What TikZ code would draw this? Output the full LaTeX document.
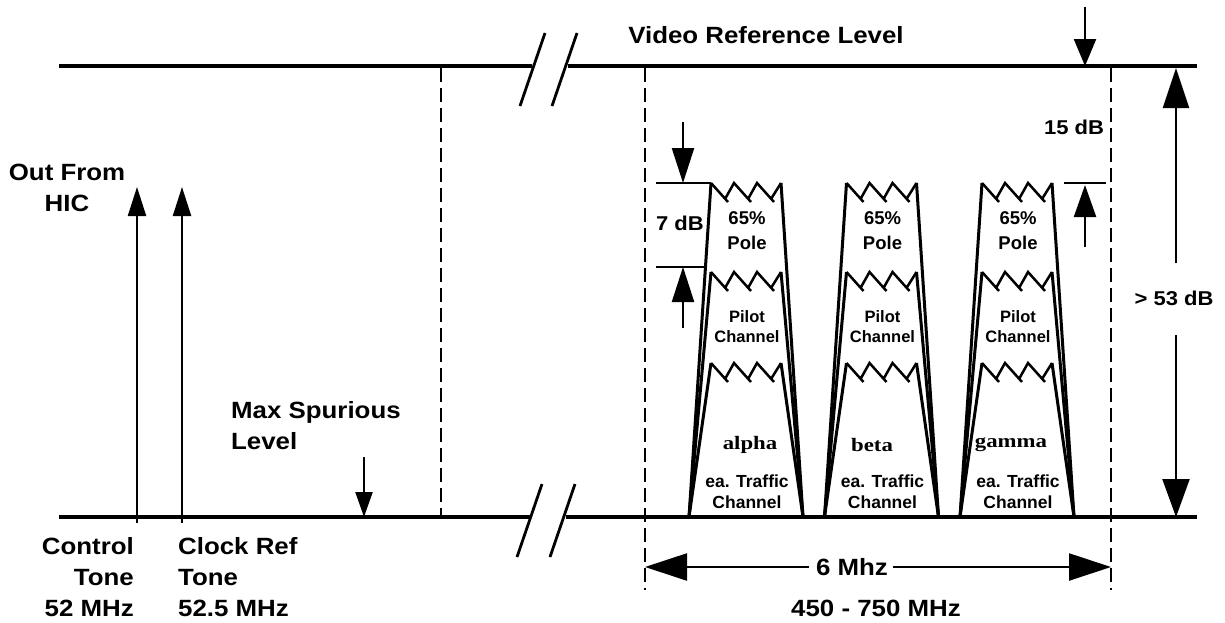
\documentclass[tikz,border=0pt]{standalone}
\usepackage{fontspec}
\newfontfamily\lblfont[FakeStretch=1.1]{Liberation Sans}
\newfontfamily\chfont{Liberation Sans}
\newfontfamily\grkfont[FakeStretch=1.2]{Liberation Serif}
\usetikzlibrary{arrows.meta}
\tikzset{
	reflevel/.style={line width=3.5pt},
	brk/.style={line width=2.8pt},
	dashline/.style={line width=2.5pt, dash pattern=on 14pt off 6pt},
	band/.style={line width=3pt},
	zig/.style={line width=2.5pt},
	dimtick/.style={line width=2.5pt},
	dimarrow/.style 2 args={line width=2.3pt, -{Triangle[length=#1pt, width=#2pt]}},
	lbl/.style={font=\lblfont\bfseries\fontsize{23.5}{31}\selectfont, inner sep=0pt},
	dblbl/.style={font=\lblfont\bfseries\fontsize{20}{24}\selectfont, inner sep=0pt},
	polelbl/.style={font=\chfont\bfseries\fontsize{18.5}{25}\selectfont, inner sep=0pt, align=center},
	pilotlbl/.style={font=\chfont\bfseries\fontsize{16.5}{20}\selectfont, inner sep=0pt, align=center},
	trafficlbl/.style={font=\chfont\bfseries\fontsize{17.5}{21}\selectfont, inner sep=0pt, align=center},
	grklbl/.style={font=\grkfont\bfseries\fontsize{19}{23}\selectfont, inner sep=0pt},
}

\begin{document}
\begin{tikzpicture}[x=1pt, y=-1pt]
	\useasboundingbox (0, 0) rectangle (1225, 622);
	% Paths, nodes and wires:
	\draw[reflevel] (59, 66) -- (532, 66) (568, 66) -- (1197, 66);
	\draw[reflevel] (59, 517) -- (530, 517) (566, 517) -- (1197, 517);
	\draw[brk] (520, 106) -- (545, 33) (552, 106) -- (577, 33);
	\draw[brk] (517, 557) -- (542, 484) (550, 557) -- (575, 484);
	\draw[dashline] (441, 68) -- (441, 517);
	\draw[dashline] (645, 68) -- (645, 590);
	\draw[dashline] (1111, 68) -- (1111, 590);
	\coordinate (ctlFoot) at (137, 523);
	\coordinate (ctlTop) at (137, 187);
	\coordinate (clkFoot) at (182, 523);
	\coordinate (clkTop) at (182, 187);
	\coordinate (spurTail) at (364, 457);
	\coordinate (spurTip) at (364, 517);
	\draw[dimarrow={29}{18}] (ctlFoot) -- (ctlTop);
	\draw[dimarrow={29}{18}] (clkFoot) -- (clkTop);
	\draw[dimarrow={25}{17}] (spurTail) -- (spurTip);
	\node[lbl, align=center] (hic) at (67, 188){Out From\\HIC};
	\node[lbl, align=left, anchor=west] (spur) at (231, 426){Max Spurious\\Level};
	\node[lbl, align=right, anchor=east] (ctl) at (134, 577){Control\\Tone\\52 MHz};
	\node[lbl, align=left, anchor=west] (clk) at (178, 577){Clock Ref\\Tone\\52.5 MHz};
	\node[lbl] (vidref) at (766, 35){Video Reference Level};
	\foreach \cx/\nm in {746/a, 881.5/b, 1017/c} {
		\foreach \ty in {183, 272, 363} {
			\draw[band] (\cx-57, 517) -- (\cx-35, \ty) (\cx+35, \ty) -- (\cx+57, 517);
			\draw[zig] (\cx-35, \ty) -- (\cx-18, \ty+19) (\cx-21, \ty+16) -- (\cx-12, \ty) -- (\cx+5, \ty+19) (\cx+2, \ty+16) -- (\cx+11, \ty) -- (\cx+28, \ty+19) (\cx+25, \ty+16) -- (\cx+35, \ty);
		}
		\node[polelbl] (pole\nm) at (\cx+1, 231){65\%\\Pole};
		\node[pilotlbl] (pilot\nm) at (\cx+1, 327){Pilot\\Channel};
		\node[trafficlbl] (traffic\nm) at (\cx+1, 492){ea. Traffic\\Channel};
	}
	\node[grklbl] (alpha) at (750, 445){alpha};
	\node[grklbl] (beta) at (872, 445){beta};
	\node[grklbl] (gamma) at (1011, 445){gamma};
	% dB markers
	\coordinate (sevenTail) at (683, 122);
	\coordinate (sevenTop) at (683, 183);
	\coordinate (sevenRise) at (683, 328);
	\coordinate (sevenLow) at (683, 267);
	\draw[dimtick] (656, 183) -- (711, 183);
	\draw[dimtick] (656, 267) -- (706, 267);
	\draw[dimarrow={35}{22}] (sevenTail) -- (sevenTop);
	\draw[dimarrow={35}{22}] (sevenRise) -- (sevenLow);
	\node[dblbl] (db7) at (680, 223){7 dB};
	\coordinate (vidTail) at (1085, 7);
	\coordinate (vidTip) at (1085, 66);
	\coordinate (fifRise) at (1085, 247);
	\coordinate (fifTop) at (1085, 185);
	\draw[dimtick] (1064, 183) -- (1106, 183);
	\draw[dimarrow={27}{22}] (vidTail) -- (vidTip);
	\draw[dimarrow={32}{22}] (fifRise) -- (fifTop);
	\node[dblbl] (db15) at (1074, 127){15 dB};
	\coordinate (spanUp) at (1176, 263);
	\coordinate (spanTop) at (1176, 68);
	\coordinate (spanDown) at (1176, 335);
	\coordinate (spanBot) at (1176, 517);
	\draw[dimarrow={40}{26}] (spanUp) -- (spanTop);
	\draw[dimarrow={38}{27}] (spanDown) -- (spanBot);
	\node[dblbl] (db53) at (1174, 298){> 53 dB};
	\coordinate (bwLeft) at (809, 567);
	\coordinate (bwLeftTip) at (645, 567);
	\coordinate (bwRight) at (893, 567);
	\coordinate (bwRightTip) at (1111, 567);
	\draw[dimarrow={42}{27}] (bwLeft) -- (bwLeftTip);
	\draw[dimarrow={42}{27}] (bwRight) -- (bwRightTip);
	\node[lbl] (bw) at (852, 567){6 Mhz};
	\node[lbl] (range) at (876, 608){450 - 750 MHz};
\end{tikzpicture}
\end{document}
